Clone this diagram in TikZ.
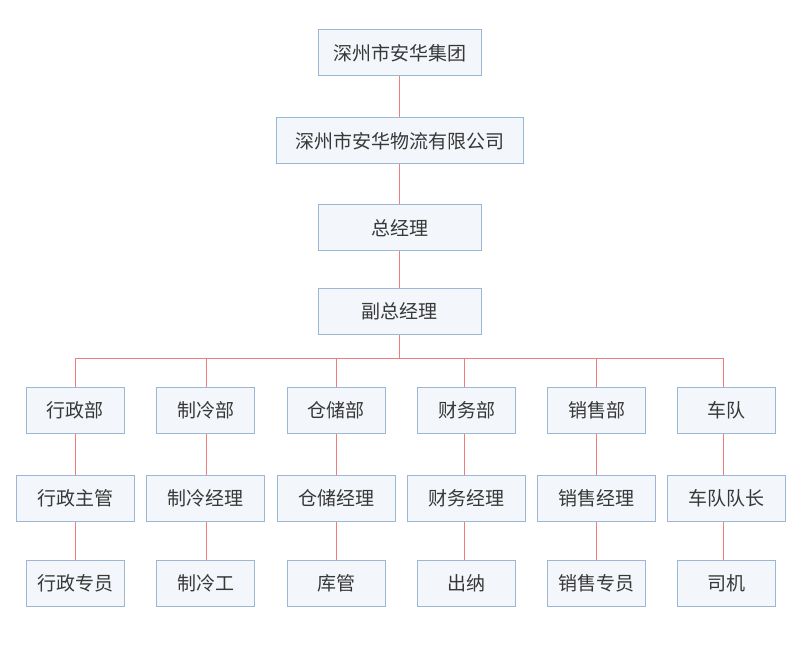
\documentclass[tikz,border=0pt]{standalone}
\usepackage{fontspec}
\newfontfamily\cjk{Noto Sans CJK SC}
\definecolor{boxfill}{HTML}{F3F6FA}
\definecolor{boxline}{HTML}{9BB7D3}
\definecolor{linkred}{HTML}{F07C7C}
\definecolor{txt}{HTML}{383838}
\begin{document}
\begin{tikzpicture}[x=1pt,y=-1pt,
  box/.style={draw=boxline,fill=boxfill,line width=1pt,minimum height=46pt,inner sep=0pt,
    font=\cjk\fontsize{19}{21}\selectfont,text=txt},
  wa/.style={box,minimum width=163pt},
  wb/.style={box,minimum width=247pt},
  wd/.style={box,minimum width=98pt},
  we/.style={box,minimum width=118pt},
  link/.style={draw=linkred,line width=0.9pt}]
\useasboundingbox (0,0) rectangle (800,668);
\node[wa] (g) at (399.5,53) {深州市安华集团};
\node[wb] (c) at (399.5,141) {深州市安华物流有限公司};
\node[wa] (m) at (399.5,228) {总经理};
\node[wa] (v) at (399.5,311) {副总经理};
\coordinate (bus) at (399.5,358);
\foreach \n/\x/\l/\a/\b/\c in {d1/75/75.3/行政部/行政主管/行政专员,
  d2/205.5/206.7/制冷部/制冷经理/制冷工,
  d3/336/336.3/仓储部/仓储经理/库管,
  d4/466.5/464.3/财务部/财务经理/出纳,
  d5/596.5/596.7/销售部/销售经理/销售专员,
  d6/726.5/723.3/车队/车队队长/司机}{
  \node[wd] (\n a) at (\x,410) {\a};
  \node[we] (\n b) at (\x,498) {\b};
  \node[wd] (\n c) at (\x,583) {\c};
  \coordinate (\n t) at (\l,358);
  \draw[link] (\n t) -- (\n t |- \n a.north);
  \draw[link] (\n t |- \n a.south) -- (\n t |- \n b.north);
  \draw[link] (\n t |- \n b.south) -- (\n t |- \n c.north);
}
\draw[link] (g) -- (c);
\draw[link] (c) -- (m);
\draw[link] (m) -- (v);
\draw[link] (v.south) -- (bus);
\draw[link] (d1t) -- (d6t);
\end{tikzpicture}
\end{document}
